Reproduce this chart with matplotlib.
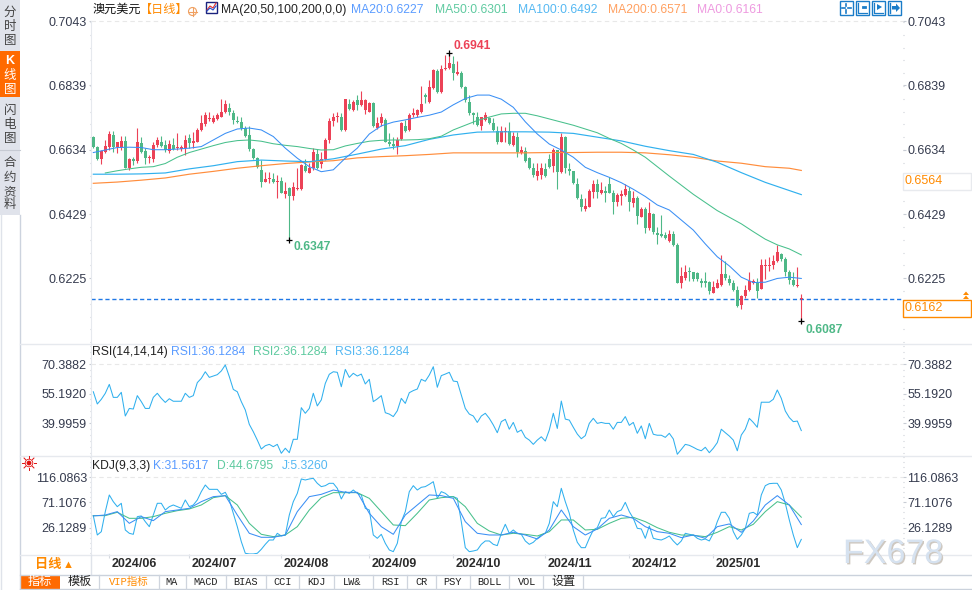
import matplotlib
matplotlib.use("Agg")
import matplotlib.pyplot as plt
import numpy as np
from matplotlib.patches import Circle, Polygon, Rectangle
from matplotlib.ticker import AutoMinorLocator
from matplotlib.transforms import ScaledTranslation
import matplotlib.patheffects as pe

plt.rcParams["font.family"] = ["Liberation Sans", "Noto Sans CJK SC", "DejaVu Sans"]

# daily AUD/USD candles, in pips
opens = [
    6676, 6644, 6605, 6628, 6642, 6681, 6642, 6642, 6661, 6575,
    6605, 6597, 6654, 6631, 6607, 6605, 6649, 6660, 6650, 6631,
    6649, 6639, 6636, 6639, 6670, 6654, 6660, 6697, 6716, 6731,
    6723, 6732, 6739, 6754, 6768, 6752, 6727, 6723, 6702, 6681,
    6636, 6609, 6570, 6532, 6541, 6541, 6532, 6534, 6493, 6511,
    6488, 6508, 6509, 6583, 6561, 6575, 6620, 6588, 6604, 6665,
    6724, 6737, 6737, 6697, 6780, 6761, 6792, 6777, 6761, 6755,
    6782, 6702, 6718, 6729, 6660, 6652, 6646, 6668, 6710, 6697,
    6745, 6745, 6755, 6808, 6787, 6830, 6886, 6817, 6890, 6893,
    6907, 6875, 6877, 6835, 6787, 6750, 6739, 6708, 6729, 6734,
    6718, 6695, 6660, 6692, 6695, 6649, 6676, 6625, 6631, 6607,
    6577, 6550, 6554, 6573, 6605, 6583, 6633, 6562, 6674, 6573,
    6566, 6525, 6477, 6446, 6453, 6499, 6525, 6496, 6503, 6525,
    6496, 6468, 6487, 6490, 6503, 6464, 6480, 6420, 6445, 6385,
    6429, 6369, 6366, 6363, 6343, 6366, 6331, 6211, 6227, 6248,
    6244, 6240, 6215, 6216, 6213, 6179, 6195, 6202, 6238, 6223,
    6211, 6187, 6140, 6168, 6187, 6211, 6209, 6191, 6265, 6265,
    6267, 6278, 6302, 6285, 6246, 6219, 6200, 6158,
]
highs = [
    6678, 6647, 6633, 6665, 6694, 6695, 6660, 6678, 6678, 6607,
    6610, 6702, 6674, 6639, 6617, 6660, 6676, 6678, 6665, 6665,
    6670, 6686, 6650, 6681, 6684, 6692, 6702, 6745, 6755, 6755,
    6745, 6750, 6796, 6792, 6782, 6761, 6742, 6739, 6708, 6708,
    6639, 6612, 6601, 6564, 6562, 6561, 6554, 6548, 6532, 6516,
    6532, 6575, 6589, 6603, 6591, 6639, 6635, 6628, 6670, 6734,
    6750, 6755, 6750, 6797, 6795, 6792, 6808, 6822, 6795, 6787,
    6787, 6737, 6750, 6734, 6688, 6674, 6674, 6723, 6729, 6750,
    6766, 6763, 6837, 6814, 6856, 6890, 6890, 6904, 6936, 6941,
    6933, 6915, 6886, 6837, 6808, 6755, 6755, 6739, 6755, 6739,
    6734, 6708, 6710, 6705, 6721, 6692, 6692, 6646, 6644, 6612,
    6591, 6591, 6591, 6591, 6621, 6639, 6633, 6686, 6678, 6591,
    6567, 6543, 6493, 6479, 6509, 6536, 6541, 6532, 6519, 6546,
    6506, 6496, 6506, 6525, 6516, 6503, 6487, 6452, 6452, 6468,
    6433, 6389, 6426, 6373, 6378, 6375, 6337, 6262, 6267, 6262,
    6246, 6243, 6225, 6246, 6216, 6216, 6221, 6299, 6281, 6235,
    6219, 6201, 6171, 6203, 6246, 6221, 6225, 6285, 6285, 6291,
    6299, 6331, 6306, 6291, 6251, 6243, 6260, 6174,
]
lows = [
    6639, 6601, 6589, 6625, 6633, 6628, 6625, 6633, 6575, 6570,
    6585, 6591, 6623, 6588, 6591, 6596, 6644, 6644, 6628, 6625,
    6633, 6633, 6630, 6618, 6639, 6639, 6658, 6695, 6711, 6727,
    6720, 6729, 6737, 6752, 6745, 6716, 6718, 6697, 6676, 6630,
    6605, 6575, 6514, 6530, 6527, 6527, 6479, 6495, 6479, 6347,
    6474, 6506, 6506, 6563, 6559, 6570, 6572, 6575, 6601, 6654,
    6710, 6723, 6694, 6695, 6761, 6758, 6761, 6773, 6748, 6753,
    6705, 6699, 6710, 6657, 6646, 6635, 6621, 6665, 6692, 6695,
    6739, 6739, 6750, 6782, 6784, 6826, 6814, 6815, 6888, 6890,
    6856, 6872, 6830, 6787, 6745, 6716, 6710, 6697, 6727, 6716,
    6695, 6652, 6657, 6660, 6649, 6647, 6612, 6620, 6596, 6573,
    6548, 6536, 6540, 6548, 6575, 6562, 6509, 6559, 6559, 6554,
    6524, 6477, 6439, 6440, 6450, 6481, 6481, 6493, 6469, 6495,
    6429, 6455, 6458, 6487, 6439, 6452, 6398, 6419, 6370, 6378,
    6366, 6334, 6355, 6351, 6340, 6327, 6210, 6194, 6219, 6217,
    6217, 6216, 6198, 6198, 6175, 6177, 6193, 6200, 6219, 6203,
    6185, 6134, 6127, 6161, 6185, 6207, 6161, 6189, 6221, 6249,
    6253, 6275, 6281, 6232, 6205, 6200, 6198, 6087,
]
closes = [
    6642, 6605, 6631, 6646, 6683, 6644, 6660, 6663, 6577, 6605,
    6597, 6658, 6628, 6608, 6610, 6649, 6665, 6647, 6633, 6652,
    6636, 6644, 6644, 6665, 6654, 6663, 6697, 6718, 6745, 6734,
    6736, 6743, 6754, 6780, 6753, 6729, 6723, 6702, 6678, 6636,
    6609, 6580, 6532, 6541, 6543, 6532, 6534, 6497, 6504, 6488,
    6514, 6511, 6585, 6567, 6576, 6627, 6575, 6604, 6665, 6724,
    6739, 6739, 6697, 6795, 6764, 6787, 6777, 6792, 6792, 6784,
    6708, 6718, 6737, 6660, 6652, 6646, 6665, 6718, 6695, 6745,
    6752, 6761, 6780, 6803, 6833, 6888, 6817, 6890, 6895, 6909,
    6877, 6883, 6833, 6792, 6750, 6745, 6713, 6737, 6743, 6720,
    6697, 6657, 6694, 6694, 6652, 6678, 6628, 6633, 6599, 6575,
    6554, 6566, 6575, 6551, 6578, 6633, 6564, 6676, 6575, 6566,
    6527, 6479, 6450, 6455, 6503, 6525, 6499, 6506, 6496, 6496,
    6468, 6490, 6493, 6509, 6468, 6480, 6423, 6445, 6385, 6433,
    6372, 6363, 6359, 6353, 6366, 6331, 6210, 6232, 6246, 6243,
    6223, 6223, 6209, 6209, 6183, 6197, 6209, 6238, 6227, 6211,
    6187, 6136, 6169, 6187, 6217, 6216, 6185, 6267, 6267, 6267,
    6278, 6307, 6285, 6246, 6219, 6203, 6203, 6159,
]

# moving averages in pips; fast ones read every third bar, slow ones every sixth
ma20_bars = list(range(0, 178, 3))
ma50_bars = list(range(3, 178, 3))
slow_bars = list(range(0, 175, 6)) + [177]
ma20 = [6625, 6633, 6641, 6642, 6641, 6634, 6634, 6636, 6639, 6644,
        6665, 6686, 6700, 6703, 6697, 6676, 6639, 6607, 6580, 6564,
        6570, 6607, 6639, 6684, 6710, 6722, 6729, 6737, 6744, 6754,
        6777, 6797, 6808, 6808, 6795, 6769, 6723, 6684, 6652, 6633,
        6610, 6578, 6561, 6546, 6529, 6508, 6485, 6458, 6442, 6410,
        6378, 6334, 6293, 6264, 6228, 6211, 6212, 6224, 6228, 6224]
ma50 = [6560, 6567, 6573, 6578, 6580, 6590, 6610, 6625, 6636, 6647,
        6657, 6663, 6665, 6661, 6653, 6648, 6644, 6638, 6633, 6634,
        6646, 6654, 6661, 6664, 6665, 6665, 6666, 6669, 6677, 6697,
        6712, 6727, 6738, 6748, 6750, 6750, 6742, 6732, 6722, 6712,
        6700, 6688, 6670, 6654, 6633, 6610, 6580, 6550, 6521, 6492,
        6466, 6440, 6419, 6398, 6373, 6349, 6331, 6318, 6299]
ma100 = [6556, 6556, 6557, 6560, 6573, 6583, 6596, 6601, 6598, 6596, 6605, 6620, 6636, 6647, 6667, 6681,
         6690, 6691, 6691, 6690, 6686, 6674, 6662, 6645, 6631, 6619, 6594, 6561, 6530, 6504, 6491]
ma200 = [6527, 6531, 6537, 6544, 6556, 6565, 6575, 6583, 6590, 6595, 6599, 6608, 6612, 6615, 6619, 6624,
         6624, 6624, 6624, 6625, 6625, 6626, 6626, 6624, 6618, 6610, 6598, 6591, 6580, 6575, 6568]

rsi = [
    56.1, 49.8, 52.2, 55.3, 59.9, 53.2, 53.2, 55.8, 43.6, 47.5,
    47.2, 54.1, 51.0, 47.5, 47.5, 53.2, 55.3, 52.7, 50.6, 52.5,
    51.2, 51.2, 51.2, 55.3, 53.2, 54.1, 60.8, 63.0, 66.4, 63.5,
    64.2, 64.9, 66.8, 69.9, 63.9, 57.3, 56.1, 51.0, 46.7, 39.3,
    35.5, 31.2, 26.6, 28.3, 29.0, 27.8, 29.0, 24.4, 27.0, 24.7,
    31.6, 31.6, 47.9, 45.0, 47.5, 55.3, 48.8, 51.9, 60.4, 65.1,
    66.4, 66.1, 58.7, 67.6, 63.5, 65.6, 64.2, 65.2, 60.1, 62.5,
    51.0, 52.4, 54.1, 45.3, 44.6, 43.3, 46.3, 52.7, 50.1, 55.6,
    56.7, 57.5, 62.5, 61.5, 64.7, 69.0, 58.4, 64.4, 65.2, 66.1,
    61.6, 61.3, 54.4, 47.5, 44.6, 43.6, 40.3, 43.6, 45.0, 42.4,
    39.0, 35.0, 40.7, 41.9, 36.8, 40.3, 35.2, 36.4, 32.6, 31.2,
    29.0, 31.2, 32.9, 30.7, 36.4, 45.0, 37.2, 51.3, 42.0, 41.5,
    37.8, 34.3, 31.9, 33.5, 39.8, 42.4, 39.8, 40.3, 39.8, 39.8,
    36.8, 40.3, 40.3, 43.3, 38.8, 40.3, 34.7, 38.5, 31.9, 39.8,
    34.2, 33.7, 33.7, 32.6, 34.7, 31.8, 23.9, 26.4, 29.0, 28.5,
    27.5, 26.4, 25.7, 27.5, 24.7, 27.0, 29.9, 36.8, 35.0, 33.3,
    31.2, 25.7, 33.8, 36.8, 42.4, 40.3, 37.8, 50.7, 50.7, 50.7,
    52.2, 57.0, 52.7, 46.2, 42.8, 40.7, 41.0, 36.1,
]

# KDJ: K and D read every third bar, J on every bar
kdj_bars = list(range(0, 178, 3))
kdj_k = [46.9, 48.6, 54.6, 33.8, 45.7, 38.6, 54.6, 57.5, 60.5, 72.3, 81.2, 83.0, 48.6, 16.1, 9.0, 9.0, 13.1,
         54.6, 81.2, 85.3, 93.0, 88.9, 88.9, 51.6, 27.9, 14.3, 48.6, 66.4, 84.2, 83.0, 78.2, 36.8, 16.1,
         13.1, 13.1, 17.9, 13.1, 6.0, 22.0, 57.5, 27.9, 13.1, 23.8, 42.7, 48.6, 42.7, 27.9, 19.0, 16.1,
         8.4, 13.1, 7.2, 27.9, 32.7, 17.9, 38.0, 66.4, 83.0, 66.4, 31.6]
kdj_d = [47.5, 47.5, 53.4, 42.7, 42.7, 45.7, 51.6, 56.3, 59.3, 66.4, 79.4, 83.0, 66.4, 33.8, 14.3, 10.2, 13.1,
         27.9, 57.5, 79.4, 88.3, 88.3, 88.3, 78.2, 54.6, 30.9, 29.7, 51.6, 75.3, 79.4, 81.2, 63.4, 33.8,
         20.2, 13.1, 16.1, 14.3, 11.3, 19.0, 39.8, 39.8, 22.0, 23.2, 33.8, 42.7, 44.5, 36.8, 26.1, 17.9,
         13.1, 12.5, 10.2, 17.9, 27.9, 22.0, 32.1, 54.6, 72.3, 66.4, 44.7]
kdj_j = [
    47.5, 13.1, 19.0, 54.6, 84.2, 72.3, 63.4, 69.4, 22.0, 16.1,
    14.3, 45.7, 46.9, 36.8, 27.9, 48.6, 69.4, 69.4, 57.5, 63.4,
    66.4, 63.4, 60.5, 75.3, 63.4, 66.4, 75.3, 90.1, 101.9, 94.2,
    94.2, 94.2, 85.3, 88.9, 75.3, 51.6, 27.9, 1.3, -19.4, -20.6,
    -20.6, -19.4, -12.3, -3.5, 4.2, 4.2, 16.1, 11.3, 13.1, 48.6,
    72.3, 87.1, 112.6, 110.8, 112.6, 113.8, 104.9, 99.0, 100.7, 104.9,
    104.9, 96.0, 77.1, 90.1, 87.1, 93.0, 87.1, 84.2, 60.5, 57.5,
    13.1, 7.2, 14.3, -1.7, -13.5, -16.5, -1.7, 36.8, 54.6, 90.1,
    100.7, 93.0, 97.8, 99.0, 103.1, 107.8, 78.2, 90.1, 87.1, 81.2,
    81.2, 78.2, 36.8, -9.4, -16.5, -15.3, -13.5, -3.5, 2.5, 2.5,
    -3.5, -5.8, 16.1, 32.1, 16.1, 22.0, 16.1, 14.3, 2.5, -3.5,
    0.1, 7.2, 13.1, 16.1, 33.8, 72.3, 63.4, 96.0, 72.3, 51.6,
    22.0, 0.1, -9.4, -9.4, 7.2, 22.0, 26.1, 42.7, 43.9, 57.5,
    45.7, 54.6, 57.5, 71.1, 54.6, 42.7, 25.0, 23.8, 7.2, 29.1,
    7.2, 5.4, 4.2, 7.2, 11.3, 2.5, -4.6, 2.5, 16.1, 14.3,
    13.1, 7.2, 4.2, 6.0, 2.5, 16.1, 36.8, 53.4, 53.4, 42.7,
    19.0, 5.4, 13.1, 25.0, 51.6, 53.4, 48.6, 84.2, 100.7, 104.3,
    104.9, 104.9, 93.0, 69.4, 39.8, 13.1, -9.4, 5.3,
]

price_ticks = [0.7043, 0.6839, 0.6634, 0.6429, 0.6225]
rsi_ticks = [70.3882, 55.1920, 39.9959]
kdj_ticks = [116.0863, 71.1076, 26.1289]
month_bars = [4, 24, 47, 69, 90, 113, 134, 155]
month_labels = ["2024/06", "2024/07", "2024/08", "2024/09", "2024/10", "2024/11", "2024/12", "2025/01"]

RED = "#ec4257"
GREEN = "#4eb887"
C_MA20 = "#3a8ff5"
C_MA50 = "#48c08c"
C_MA100 = "#30b0ee"
C_MA200 = "#ff8d3c"
ORANGE = "#ff8a00"
AXIS_TXT = "#353b4e"
LINE = "#e6e9ee"
FS = 8.7
LW = 0.75

W, H = 972, 590
fig = plt.figure(figsize=(W / 100, H / 100), dpi=100, facecolor="white")


def pane(top, bottom, left=91, right=903):
    return fig.add_axes([left / W, 1 - bottom / H, (right - left) / W, (bottom - top) / H])


def style_pane(ax, ticks, labels):
    ax.set_xlim((91 - 93.3) / 4, (903 - 93.3) / 4)
    ax.set_yticks(ticks)
    ax.set_yticklabels(labels)
    ax.yaxis.set_minor_locator(AutoMinorLocator(5))
    ax.tick_params(axis="y", which="major", left=True, right=True, labelleft=True, labelright=True,
                   length=1.8, width=0.8, color="#c8ccd4", pad=1.2, labelsize=9, labelcolor=AXIS_TXT)
    ax.tick_params(axis="y", which="minor", left=True, right=True, length=1, width=0.8, color="#c8ccd4")
    ax.set_xticks([])
    for side in ["top", "right", "bottom"]:
        ax.spines[side].set_visible(False)
    ax.spines["left"].set_color(LINE)
    ax.patch.set_alpha(0)
    ax.axhline(ticks[0], color="#e8e8e8", lw=0.8, ls=(0, (4, 3)), clip_on=False, zorder=0)


bars = np.arange(len(closes))
o = np.array(opens) / 1e4
h = np.array(highs) / 1e4
l = np.array(lows) / 1e4
c = np.array(closes) / 1e4
up = c >= o
colors = np.where(up, RED, GREEN)

# main price pane
ax = pane(21.3, 343.5)
ax.vlines(bars, l, h, colors=colors, lw=0.8, zorder=2)
ax.bar(bars, np.maximum(np.abs(c - o), 0.0003), bottom=np.minimum(o, c), width=0.76,
       color=colors, linewidth=0, zorder=3)
ax.plot(slow_bars, np.array(ma200) / 1e4, color=C_MA200, lw=0.85, zorder=4)
ax.plot(slow_bars, np.array(ma100) / 1e4, color=C_MA100, lw=0.85, zorder=4)
ax.plot(ma50_bars, np.array(ma50) / 1e4, color=C_MA50, lw=LW, zorder=4)
ax.plot(ma20_bars, np.array(ma20) / 1e4, color=C_MA20, lw=LW, zorder=4)
ax.axhline(c[-1], color="#1f78e6", lw=1.0, ls=(0, (3, 2)), zorder=1)
ax.set_ylim(0.60168, 0.7043)
style_pane(ax, price_ticks, [f"{t:.4f}" for t in price_ticks])

for bar, price, colour, off, txt in [(89, h[89], RED, (3, 5), "0.6941"),
                                     (49, l[49], GREEN, (3, -5), "0.6347"),
                                     (177, l[177], GREEN, (3, -6), "0.6087")]:
    ax.plot([bar], [price], marker="+", color="black", ms=5, mew=0.9, zorder=6, clip_on=False)
    ax.annotate(txt, (bar, price), xytext=off, textcoords="offset points", color=colour, fontsize=FS,
                fontweight="bold", va="center", ha="left", zorder=6)

# RSI pane
ax_rsi = pane(343.5, 455.5)
ax_rsi.plot(bars, rsi, color=C_MA100, lw=LW)
ax_rsi.set_ylim(23.26, 80.95)
style_pane(ax_rsi, rsi_ticks, [f"{t:.4f}" for t in rsi_ticks])

# KDJ pane
ax_kdj = pane(455.5, 554.3)
ax_kdj.plot(bars, kdj_j, color=C_MA100, lw=LW)
ax_kdj.plot(kdj_bars, kdj_d, color=C_MA50, lw=LW)
ax_kdj.plot(kdj_bars, kdj_k, color=C_MA20, lw=LW)
ax_kdj.set_ylim(-21.2, 154.3)
style_pane(ax_kdj, kdj_ticks, [f"{t:.4f}" for t in kdj_ticks])
ax_kdj.set_xticks(month_bars)
ax_kdj.set_xticklabels(month_labels, ha="left", fontweight="bold", fontsize=9, color="#2b2b2b")
ax_kdj.tick_params(axis="x", length=3, width=0.8, color="#d5d8de", pad=0)
shift = ScaledTranslation(2.5 / 100, 0, fig.dpi_scale_trans)
for tl in ax_kdj.get_xticklabels():
    tl.set_transform(tl.get_transform() + shift)

# everything around the panes, in pixel coordinates
ui = fig.add_axes([0, 0, 1, 1], zorder=10)
ui.set_xlim(0, W)
ui.set_ylim(H, 0)
ui.axis("off")
ui.patch.set_alpha(0)

# sidebar
ui.add_patch(Rectangle((0, 0), 19.5, 215, fc="#e0e3eb", ec="none"))
ui.add_patch(Rectangle((0, 51), 19.5, 46, fc="#ff6a00", ec="none"))
ui.plot([0, 19.5], [149.5, 149.5], color="#c6cad3", lw=0.8)
ui.plot([0.5, 0.5], [215, 590], color="#dfe3ea", lw=1)
ui.plot([19.5, 19.5], [215, 590], color="#ccd3de", lw=1)
side_chars = [("分", 13), ("时", 27), ("图", 41), ("K", 61), ("线", 76), ("图", 90),
              ("闪", 111), ("电", 125), ("图", 139), ("合", 163), ("约", 178), ("资", 192), ("料", 205)]
for ch, yy in side_chars:
    in_tab = 51 < yy < 97
    ui.text(10, yy, ch, ha="center", va="center", fontsize=9, color="white" if in_tab else "#444444",
            fontweight="bold" if ch == "K" else "normal")

# pane separators
for yy in [343.5, 455.5]:
    ui.plot([20, W], [yy, yy], color=LINE, lw=1)
ui.plot([20, W], [554.5, 554.5], color=LINE, lw=1)

# header row
ui.text(92, 10, "澳元美元", fontsize=FS, va="center", color="#111111")
ui.text(140, 10, "【日线】", fontsize=FS, va="center", color=ORANGE)
ui.add_patch(Circle((192.5, 11.5), 4, fc="none", ec="#f0a060", lw=0.8))
ui.plot([188.5, 196.5], [11.5, 11.5], color="#f0a060", lw=0.8)
ui.plot([192.5, 192.5], [7.5, 15.5], color="#f0a060", lw=0.8)
ui.add_patch(Rectangle((206, 1.5), 11, 11, fc="white", ec="#1a237e", lw=1))
ui.plot([207, 210, 213, 216], [10, 6, 8, 3], color="#e03030", lw=0.8)
ui.plot([207, 210, 213, 216], [11, 8, 10, 6], color="#2050d0", lw=0.8)
ui.text(221, 10, "MA(20,50,100,200,0,0)", fontsize=FS, va="center", color="#222222")
for xx, txt, colour in [(351, "MA20:0.6227", "#5b9cff"), (435, "MA50:0.6301", "#5fcaa0"),
                        (517.5, "MA100:0.6492", "#55b8f2"), (608, "MA200:0.6571", "#ffa060"),
                        (697, "MA0:0.6161", "#ee9ae0")]:
    ui.text(xx, 10, txt, fontsize=FS, va="center", color=colour)

# toolbar buttons
for xx in [839.5, 855.5, 871.7, 887.5]:
    ui.add_patch(Rectangle((xx, 1.2), 13.5, 13.5, fc="white", ec="#1a7cc8", lw=1))
ui.plot([842, 845], [8, 8], color="#1a7cc8", lw=1.2)
ui.plot([848, 851], [8, 8], color="#1a7cc8", lw=1.2)
ui.plot([846.3, 846.3], [3.5, 6], color="#1a7cc8", lw=1.2)
ui.plot([846.3, 846.3], [10, 12.5], color="#1a7cc8", lw=1.2)
ui.plot([858, 858, 867], [3, 12.5, 12.5], color="#1a7cc8", lw=0.9)
ui.plot([863, 865], [7, 7], color="#1a7cc8", lw=2)
ui.plot([874, 874, 883], [3, 12.5, 12.5], color="#1a7cc8", lw=0.9)
ui.add_patch(Polygon([[877, 4], [877, 10], [882, 7]], fc="#1a7cc8", ec="none"))
ui.plot([890, 890], [3, 13], color="#1a7cc8", lw=1)
ui.add_patch(Polygon([[892, 6], [896, 6], [896, 3.5], [900, 8], [896, 12], [896, 9.5], [892, 9.5]],
                     fc="#1a7cc8", ec="none"))

# price boxes on the right
ui.add_patch(Rectangle((903, 172.5), 68, 17, fc="white", ec="#e8eaee", lw=1))
ui.text(904.5, 181, "0.6564", fontsize=9, va="center", color=ORANGE)
ui.add_patch(Rectangle((902.5, 299.5), 68, 17, fc="white", ec=ORANGE, lw=1))
ui.text(904.5, 308, "0.6162", fontsize=9, va="center", color=ORANGE)
ui.add_patch(Polygon([[963, 295], [969, 295], [966, 291.5]], fc=ORANGE, ec="none"))
ui.add_patch(Polygon([[963, 299], [969, 299], [966, 295.5]], fc=ORANGE, ec="none"))

# pane titles
ui.text(92, 352, "RSI(14,14,14)", fontsize=FS, va="center", color="#222222")
ui.text(171, 352, "RSI1:36.1284", fontsize=FS, va="center", color="#5b9cff")
ui.text(253, 352, "RSI2:36.1284", fontsize=FS, va="center", color="#5fcaa0")
ui.text(335, 352, "RSI3:36.1284", fontsize=FS, va="center", color="#55b8f2")
ui.text(92, 466, "KDJ(9,3,3)", fontsize=FS, va="center", color="#222222")
ui.text(153, 466, "K:31.5617", fontsize=FS, va="center", color="#5b9cff")
ui.text(217, 466, "D:44.6795", fontsize=FS, va="center", color="#5fcaa0")
ui.text(282, 466, "J:5.3260", fontsize=FS, va="center", color="#55b8f2")

# red sun icon next to KDJ
ui.add_patch(Circle((29, 463), 2.4, fc="#e01010", ec="none"))
ui.add_patch(Circle((29, 463), 3.8, fc="none", ec="#e01010", lw=0.6))
for ang in np.deg2rad(np.arange(0, 360, 45)):
    ui.plot([29 + 4.8 * np.cos(ang), 29 + 7 * np.cos(ang)], [463 + 4.8 * np.sin(ang), 463 + 7 * np.sin(ang)],
            color="#e01010", lw=0.7)

# period selector and tab strip
ui.plot([90.5, 90.5], [554.5, 574], color="#dfe3ea", lw=1)
ui.text(35, 565, "日线", fontsize=9.5, fontweight="bold", va="center", color=ORANGE)
ui.text(63, 565, "▲", fontsize=8, va="center", color=ORANGE)
ui.plot([20, W], [574.5, 574.5], color="#cbd2dc", lw=1)
ui.plot([20, W], [589.3, 589.3], color="#cbd2dc", lw=1)
ui.add_patch(Rectangle((20, 575), 39.5, 14, fc="#ff6a00", ec="none"))
for xx in [99.3, 159.3, 185.7, 225.7, 265.7, 299.3, 334.3, 373.3, 407.3, 435.7, 470, 509.3, 543.3, 583.3]:
    ui.plot([xx, xx], [575, 589], color="#cfd5de", lw=0.9)
ui.text(39.5, 582, "指标", fontsize=FS, ha="center", va="center", color="white")
ui.text(79.3, 582, "模板", fontsize=FS, ha="center", va="center", color="#222222")
ui.text(563.3, 582, "设置", fontsize=FS, ha="center", va="center", color="#222222")
mono = ["Liberation Mono", "Noto Sans CJK SC"]
ui.text(129, 582, "VIP指标", fontsize=7.6, family=mono, ha="center", va="center", color=ORANGE)
for xx, txt in [(171.7, "MA"), (205.7, "MACD"), (245.7, "BIAS"), (282.3, "CCI"), (316.7, "KDJ"),
                (351.7, "LW&"), (390.7, "RSI"), (421.7, "CR"), (452.7, "PSY"), (489.5, "BOLL"), (526.7, "VOL")]:
    ui.text(xx, 582, txt, fontsize=7.4, family=mono, ha="center", va="center", color="#222222")

# watermark
ui.text(843, 554.5, "FX678", fontsize=24.5, va="center", color="#d6e2f0",
        path_effects=[pe.withSimplePatchShadow(offset=(1, -1), shadow_rgbFace="#c9c2ba", alpha=0.9)])

fig.savefig("out.png", dpi=100, facecolor="white")
